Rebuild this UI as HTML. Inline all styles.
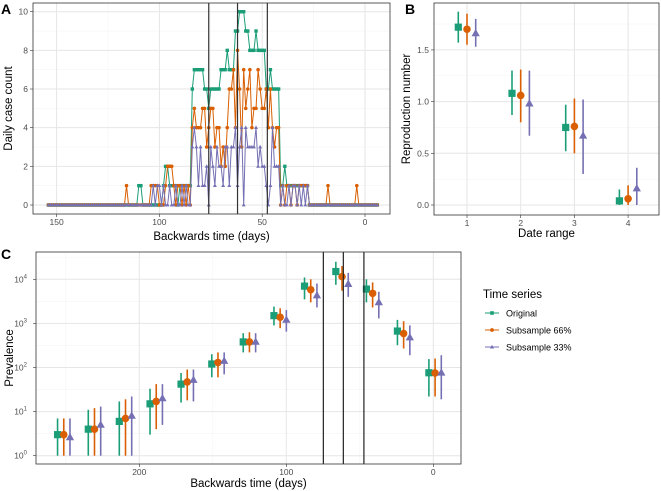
<!DOCTYPE html>
<html><head><meta charset="utf-8"><style>
body{margin:0;background:#fff;}
svg{display:block;font-family:"Liberation Sans",sans-serif;}
.tk{font-size:8.5px;fill:#4d4d4d;}
.ti{font-size:11.5px;fill:#000;}
.pl{font-size:14px;font-weight:bold;fill:#000;}
</style></head><body>
<svg id="fig" width="661" height="491" viewBox="0 0 661 491"></svg>
<script>
// ---------- Panel A data (days 154 .. -6) ----------
const caseDayStart = 154;
const caseDayEnd = -6;
const greenCounts = [
0,0,0,0,0,0,0,0,0,0, 0,0,0,0,0,0,0,0,0,0, 0,0,0,0,0,0,0,0,0,0, 0,0,0,0,0,0,0,0,0,0,
0,0,0,0,1,1,0,0,0,0, 0,0,0,0,0,0,1,2,2,1, 1,1,1,0,1,1,1,1,1,1,
6,7,7,7,7,7,6,6,5,6, 6,6,6,6,7,7,7,8,7,7, 7,9,9,10,10,10,9,9,8,8,
8,9,8,8,8,8,6,6,7,6, 6,6,6,1,1,2,1,1,1,1, 1,1,1,1,1,1,1,0,0,0,
0,0,0,0,0,0,0,0,0,0, 0,0,0,0,0,0,0,0,0,0, 0,0,0,0,0,0,0,0,0,0, 0];
const orangeCounts = [
0,0,0,0,0,0,0,0,0,0, 0,0,0,0,0,0,0,0,0,0, 0,0,0,0,0,0,0,0,0,0, 0,0,0,0,0,0,0,0,1,0,
0,0,0,0,0,0,0,0,0,0, 1,1,1,1,0,0,0,1,2,2, 2,1,0,1,1,0,1,0,1,0,
4,5,4,4,4,5,5,3,4,5, 5,3,4,4,2,3,2,4,6,6, 7,4,8,6,3,7,5,6,7,4,
5,5,7,6,5,5,6,4,6,4, 3,4,4,0,1,0,1,1,0,1, 1,0,1,1,1,1,1,0,0,0,
0,0,0,0,0,0,1,0,0,0, 0,0,0,0,0,0,0,0,0,0, 1,0,0,0,0,0,0,0,0,0, 0];
const purpleCounts = [
0,0,0,0,0,0,0,0,0,0, 0,0,0,0,0,0,0,0,0,0, 0,0,0,0,0,0,0,0,0,0, 0,0,0,0,0,0,0,0,0,0,
0,0,0,0,0,0,0,0,0,0, 0,1,0,1,1,0,1,0,0,1, 0,0,1,0,0,1,0,1,0,0,
3,4,3,1,3,1,1,2,0,3, 2,1,3,2,2,1,3,3,1,3, 3,4,1,3,4,0,4,3,3,3,
3,4,2,3,2,2,1,0,1,4, 2,2,2,0,1,0,0,1,0,1, 1,0,1,0,1,0,1,0,0,0,
0,0,0,0,0,0,0,0,0,0, 0,0,0,0,0,0,0,0,0,0, 0,0,0,0,0,0,0,0,0,0, 0];
const aXTicks = [150,100,50,0];
const aYTicks = [0,2,4,6,8,10];
const aVLines = [76,62,47.5];

// ---------- Panel B data ----------
const bRanges = [1,2,3,4];
const bGreen = [1.72,1.08,0.75,0.04];
const bGreenLo = [1.57,0.87,0.52,0.0];
const bGreenHi = [1.87,1.30,0.97,0.15];
const bOrange = [1.70,1.06,0.76,0.06];
const bOrangeLo = [1.55,0.80,0.50,0.0];
const bOrangeHi = [1.85,1.31,1.03,0.19];
const bPurple = [1.66,0.98,0.67,0.16];
const bPurpleLo = [1.53,0.67,0.30,0.0];
const bPurpleHi = [1.80,1.30,1.02,0.36];
const bYTicks = [0,0.5,1.0,1.5];

// ---------- Panel C data ----------
const cTimes = [255.6,234.7,213.6,192.7,171.6,150.7,129.3,108.4,87.6,66.3,45.5,24.4,3];
const cGreen = [3,4,6,15,42,120,380,1500,7000,15000,6000,670,76];
const cGreenLo = [1,1,1,3,16,60,220,900,3500,7500,3000,320,22];
const cGreenHi = [7,11,17,33,75,200,600,2400,11000,25000,10000,1200,155];
const cOrange = [3,4,7,17,47,130,380,1380,5800,11500,4800,590,75];
const cOrangeLo = [1,1,1,4,18,60,220,780,3000,5500,2300,270,22];
const cOrangeHi = [7,12,19,42,90,220,630,2200,10000,20000,8500,1120,160];
const cPurple = [2.6,5,8,20,52,140,380,1200,4300,7800,3000,480,76];
const cPurpleLo = [1,1,1,5,17,70,220,650,2300,4000,1300,190,19];
const cPurpleHi = [7,13,22,42,90,220,600,2000,8000,14000,5200,900,190];
const cXTicks = [200,100,0];
const cYExp = [0,1,2,3,4];
const cVLines = [74.8,61.2,47.2];

const COL = {g:"#1b9e77", o:"#d95f02", p:"#7570b3"};
const svg = document.getElementById('fig');
const NS = "http://www.w3.org/2000/svg";
function mk(tag, attrs, parent){
  const e = document.createElementNS(NS, tag);
  for (const k in attrs) e.setAttribute(k, attrs[k]);
  (parent||svg).appendChild(e);
  return e;
}
function shape(kind, cx, cy, s, color, parent){
  let e;
  if (kind==='sq') e = mk('rect',{x:cx-s,y:cy-s,width:2*s,height:2*s,fill:color},parent);
  else if (kind==='ci') e = mk('circle',{cx:cx,cy:cy,r:s*1.05,fill:color},parent);
  else e = mk('polygon',{points:`${cx},${cy-s*1.25} ${cx-s*1.15},${cy+s*0.8} ${cx+s*1.15},${cy+s*0.8}`,fill:color},parent);
  return e;
}
function text(str, x, y, cls, anchor, parent, rot){
  const t = mk('text',{x:x,y:y,class:cls,'text-anchor':anchor||'middle'},parent);
  if (rot) t.setAttribute('transform',`rotate(${rot} ${x} ${y})`);
  t.textContent = str;
  return t;
}
function line(x1,y1,x2,y2,stroke,w,parent){
  return mk('line',{x1:x1,y1:y1,x2:x2,y2:y2,stroke:stroke,'stroke-width':w},parent);
}

// ================= PANEL A =================
const gA = mk('g',{});


const A = {l:33,r:390,t:3,b:214};
const ax = t => 365 - t*2.056;
const ay = v => 205 - v*19.33;
mk('rect',{x:A.l,y:A.t,width:A.r-A.l,height:A.b-A.t,fill:'#fff'},gA);
[125,75,25].forEach(t=>line(ax(t),A.t,ax(t),A.b,'#f4f4f4',0.6,gA));
[1,3,5,7,9].forEach(v=>line(A.l,ay(v),A.r,ay(v),'#f4f4f4',0.6,gA));
aXTicks.forEach(t=>{ line(ax(t),A.t,ax(t),A.b,'#e6e6e6',1,gA); line(ax(t),A.b,ax(t),A.b+3,'#333',0.6,gA); text(String(t),ax(t),A.b+11,'tk','middle',gA); });
aYTicks.forEach(v=>{ line(A.l,ay(v),A.r,ay(v),'#e6e6e6',1,gA); line(A.l-3,ay(v),A.l,ay(v),'#333',0.6,gA); text(String(v),A.l-5,ay(v)+3,'tk','end',gA); });
function aSeries(arr, color, kind, name){
  const g = mk('g',{},gA);
  
  
  const pts = arr.map((v,i)=>`${ax(caseDayStart-i)},${ay(v)}`).join(' ');
  mk('polyline',{points:pts,fill:'none',stroke:color,'stroke-width':1},g);
  arr.forEach((v,i)=>shape(kind, ax(caseDayStart-i), ay(v), 1.7, color, g));
}
aSeries(greenCounts,COL.g,'sq','series-original');
aSeries(orangeCounts,COL.o,'ci','series-subsample-66');
aSeries(purpleCounts,COL.p,'tr','series-subsample-33');
aVLines.forEach(t=>{ const l=line(ax(t),A.t,ax(t),A.b,'#333',1.2,gA);
  
   });
mk('rect',{x:A.l,y:A.t,width:A.r-A.l,height:A.b-A.t,fill:'none',stroke:'#333','stroke-width':0.8},gA);
const atx = text('Backwards time (days)',(A.l+A.r)/2,240,'ti','middle',gA);


const aty = text('Daily case count',12,A.t+(A.b-A.t)/2,'ti','middle',gA,-90);


const pla = text('A',1,14,'pl','start',gA);



// ================= PANEL B =================
const gB = mk('g',{});


const B = {l:434,r:659,t:3,b:215};
const bx = r => 467 + (r-1)*53.7;
const by = v => 205 - v*103.4;
[0.25,0.75,1.25,1.75].forEach(v=>line(B.l,by(v),B.r,by(v),'#f4f4f4',0.6,gB));
bRanges.forEach(r=>{ line(bx(r),B.t,bx(r),B.b,'#e6e6e6',1,gB); line(bx(r),B.b,bx(r),B.b+3,'#333',0.6,gB); text(String(r),bx(r),B.b+11,'tk','middle',gB); });
bYTicks.forEach(v=>{ line(B.l,by(v),B.r,by(v),'#e6e6e6',1,gB); line(B.l-3,by(v),B.l,by(v),'#333',0.6,gB); text(v.toFixed(1),B.l-5,by(v)+3,'tk','end',gB); });
function bSeries(mid,lo,hi,off,color,kind,name){
  const g = mk('g',{},gB);
  
  
  bRanges.forEach((r,i)=>{ const x=bx(r)+off;
    line(x,by(lo[i]),x,by(hi[i]),color,1.6,g);
    shape(kind,x,by(mid[i]),3.6,color,g); });
}
bSeries(bGreen,bGreenLo,bGreenHi,-8.7,COL.g,'sq','r-original');
bSeries(bOrange,bOrangeLo,bOrangeHi,0,COL.o,'ci','r-subsample-66');
bSeries(bPurple,bPurpleLo,bPurpleHi,8.7,COL.p,'tr','r-subsample-33');
mk('rect',{x:B.l,y:B.t,width:B.r-B.l,height:B.b-B.t,fill:'none',stroke:'#333','stroke-width':0.8},gB);
const btx = text('Date range',(B.l+B.r)/2,237,'ti','middle',gB);


const bty = text('Reproduction number',410,B.t+(B.b-B.t)/2,'ti','middle',gB,-90);


const plb = text('B',405,14,'pl','start',gB);



// ================= PANEL C =================
const gC = mk('g',{});


const C = {l:36,r:461,t:252,b:464};
const cx = t => 433.3 - t*1.47;
const cy = v => 455.7 - Math.log10(v)*44.1;
[250,150,50].forEach(t=>line(cx(t),C.t,cx(t),C.b,'#f4f4f4',0.6,gC));
[0.5,1.5,2.5,3.5,4.5].forEach(e=>{ const y=455.7-e*44.1; if(y>C.t) line(C.l,y,C.r,y,'#f4f4f4',0.6,gC); });
cXTicks.forEach(t=>{ line(cx(t),C.t,cx(t),C.b,'#e6e6e6',1,gC); line(cx(t),C.b,cx(t),C.b+3,'#333',0.6,gC); text(String(t),cx(t),C.b+11,'tk','middle',gC); });
cYExp.forEach(e=>{ const y=455.7-e*44.1; line(C.l,y,C.r,y,'#e6e6e6',1,gC); line(C.l-3,y,C.l,y,'#333',0.6,gC);
  const t = text('10',C.l-9,y+3,'tk','end',gC);
  const s = mk('tspan',{dy:-4,'font-size':'6px'},t); s.textContent=String(e); });
function cSeries(mid,lo,hi,off,color,kind,name){
  const g = mk('g',{},gC);
  
  
  cTimes.forEach((t,i)=>{ const x=cx(t)+off;
    line(x,cy(lo[i]),x,cy(hi[i]),color,1.6,g);
    shape(kind,x,cy(mid[i]),3.6,color,g); });
}
cSeries(cGreen,cGreenLo,cGreenHi,0,COL.g,'sq','prevalence-original');
cSeries(cOrange,cOrangeLo,cOrangeHi,6.2,COL.o,'ci','prevalence-subsample-66');
cSeries(cPurple,cPurpleLo,cPurpleHi,12.4,COL.p,'tr','prevalence-subsample-33');
cVLines.forEach(t=>{ const l=line(cx(t),C.t,cx(t),C.b,'#222',1.2,gC);
  
   });
mk('rect',{x:C.l,y:C.t,width:C.r-C.l,height:C.b-C.t,fill:'none',stroke:'#333','stroke-width':0.8},gC);
const ctx = text('Backwards time (days)',(C.l+C.r)/2,487,'ti','middle',gC);


const cty = text('Prevalence',13,C.t+(C.b-C.t)/2,'ti','middle',gC,-90);


const plc = text('C',1,259,'pl','start',gC);



// ================= LEGEND =================
const gL = mk('g',{});


text('Time series',483,298,'ti','start',gL);
const legNames = ['Original','Subsample 66%','Subsample 33%'];
const legCols = [COL.g,COL.o,COL.p];
const legKinds = ['sq','ci','tr'];
legNames.forEach((n,i)=>{
  const y = 313 + i*17;
  const ge = mk('g',{},gL);
  
  
  line(485,y,499,y,legCols[i],1,ge);
  shape(legKinds[i],492,y,1.8,legCols[i],ge);
  text(n,506,y+3.5,'tk','start',ge).setAttribute('style','fill:#000;font-size:9px');
});
</script>
</body></html>
